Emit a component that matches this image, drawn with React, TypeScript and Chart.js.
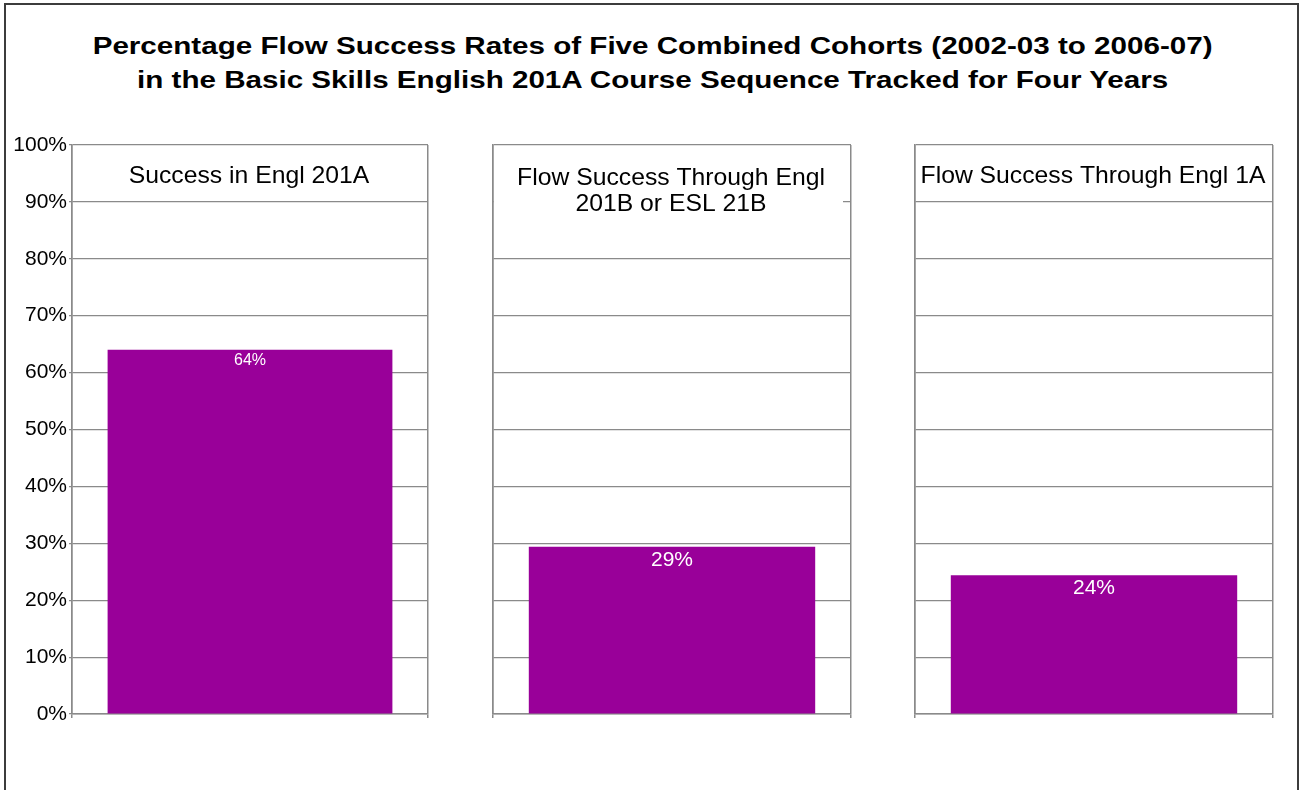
import React, { useEffect, useRef } from "react";
import { Chart, registerables } from "chart.js";

Chart.register(...registerables);

const TITLE_LINES = [
  "Percentage Flow Success Rates of Five Combined Cohorts (2002-03 to 2006-07)",
  "in the Basic Skills English 201A Course Sequence Tracked for Four Years",
];
const CATEGORY_LINES: string[][] = [
  ["Success in Engl 201A"],
  ["Flow Success Through Engl", "201B or ESL 21B"],
  ["Flow Success Through Engl 1A"],
];
const VALUES = [64.0, 29.4, 24.4];
const VALUE_LABELS = ["64%", "29%", "24%"];
const VALUE_FONT_SIZES = [16, 21, 21];
const Y_TICKS = [0, 10, 20, 30, 40, 50, 60, 70, 80, 90, 100];

const FONT = "'Liberation Sans', Arial, sans-serif";
const BAR = "#990099";
const GRID = "#8a8a8a";

// panel layout (page coords)
const PANELS = [
  { left: 72, right: 428 },
  { left: 493, right: 851 },
  { left: 915, right: 1273 },
];
const PLOT_TOP = 145;
const PLOT_BOTTOM = 714;
const PAD_TOP = 14;
const PAD_RIGHT = 4;
const PAD_LEFT = 4;
const X_AXIS_H = 8;
const Y_AXIS_W = 60;

function Panel({ idx }: { idx: number }) {
  const ref = useRef<HTMLCanvasElement | null>(null);
  const p = PANELS[idx];
  const first = idx === 0;
  const canvasLeft = first ? p.left - Y_AXIS_W - PAD_LEFT : p.left - PAD_LEFT;
  const canvasTop = PLOT_TOP - PAD_TOP;
  const canvasW = p.right + PAD_RIGHT - canvasLeft;
  const canvasH = PLOT_BOTTOM + X_AXIS_H + 2 - canvasTop;

  useEffect(() => {
    if (!ref.current) return;
    const labelPlugin = {
      id: "panelLabels",
      afterDatasetsDraw(chart: any) {
        const ctx = chart.ctx;
        const area = chart.chartArea;
        const meta = chart.getDatasetMeta(0);
        meta.data.forEach((bar: any) => {
          ctx.save();
          ctx.fillStyle = "#ffffff";
          ctx.font = `${VALUE_FONT_SIZES[idx]}px ${FONT}`;
          ctx.textAlign = "center";
          ctx.textBaseline = "top";
          ctx.fillText(VALUE_LABELS[idx], bar.x, bar.y + 3);
          ctx.restore();
        });
        const lines = CATEGORY_LINES[idx];
        ctx.save();
        const cx = (area.left + area.right) / 2 - 1;
        const lineH = 26;
        const startY = area.top + 31;
        if (lines.length > 1) {
          ctx.fillStyle = "#ffffff";
          ctx.fillRect(area.left + 1, area.top + 14, area.right - area.left - 9, 56);
        }
        ctx.fillStyle = "#000000";
        ctx.font = `24px ${FONT}`;
        ctx.textAlign = "center";
        ctx.textBaseline = "middle";
        lines.forEach((ln, i) => {
          ctx.save();
          ctx.translate(cx, startY + i * lineH + (lines.length > 1 ? 2 : 0));
          ctx.scale(1.03, 1);
          ctx.fillText(ln, 0, 0);
          ctx.restore();
        });
        ctx.restore();
      },
    };
    const chart = new Chart(ref.current, {
      type: "bar",
      data: {
        labels: [CATEGORY_LINES[idx].join(" ")],
        datasets: [
          {
            data: [VALUES[idx]],
            backgroundColor: BAR,
            borderWidth: 0,
            categoryPercentage: 1,
            barPercentage: 0.8,
          },
        ],
      },
      options: {
        animation: false,
        responsive: false,
        devicePixelRatio: 1,
        layout: {
          autoPadding: false,
          padding: { top: PAD_TOP, right: PAD_RIGHT, left: PAD_LEFT, bottom: 2 },
        },
        plugins: {
          legend: { display: false },
          title: { display: false },
          tooltip: { enabled: false },
        },
        scales: {
          x: {
            type: "category",
            offset: true,
            ticks: { display: false },
            grid: {
              offset: true,
              color: GRID,
              lineWidth: 1.5,
              drawTicks: true,
              tickLength: 4,
            },
            border: { display: true, color: GRID, width: 1.5 },
            afterFit: (s: any) => {
              s.height = X_AXIS_H;
              s.paddingLeft = 0;
              s.paddingRight = 0;
            },
          },
          y: {
            min: 0,
            max: 100,
            afterBuildTicks: (s: any) => {
              s.ticks = Y_TICKS.map((v) => ({ value: v }));
            },
            ticks: {
              display: first,
              padding: 2,
              color: "#000000",
              font: { family: FONT, size: 21 },
              callback: (v: any) => `${v}%`,
            },
            grid: {
              color: GRID,
              lineWidth: 1.2,
              drawTicks: first,
              tickLength: 3,
            },
            border: { display: true, color: GRID, width: 1.5 },
            afterFit: (s: any) => {
              s.width = first ? Y_AXIS_W : 0;
              s.paddingTop = 0;
              s.paddingBottom = 0;
            },
          },
        },
      },
      plugins: [labelPlugin],
    });
    return () => chart.destroy();
  }, [idx]);

  return (
    <canvas
      ref={ref}
      width={canvasW}
      height={canvasH}
      style={{
        position: "absolute",
        left: canvasLeft,
        top: canvasTop,
        width: canvasW,
        height: canvasH,
      }}
    />
  );
}

export default function App() {
  return (
    <div
      style={{
        position: "fixed",
        left: 0,
        top: 0,
        width: 1305,
        height: 790,
        overflow: "hidden",
        background: "#ffffff",
      }}
    >
      <div
        style={{
          position: "absolute",
          left: 4,
          top: 3,
          width: 1295,
          height: 820,
          border: "2px solid #3c3c3c",
          boxSizing: "border-box",
        }}
      />
      <div
        style={{
          position: "absolute",
          left: 0,
          top: 29,
          width: 1305,
          textAlign: "center",
          fontFamily: FONT,
          fontWeight: "bold",
          fontSize: 24,
          lineHeight: "34px",
          color: "#000",
        }}
      >
        {TITLE_LINES.map((t, i) => (
          <div key={i} style={{ transform: "scaleX(1.233)", transformOrigin: "652px 50%", whiteSpace: "nowrap" }}>
            {t}
          </div>
        ))}
      </div>
      {PANELS.map((_, i) => (
        <Panel key={i} idx={i} />
      ))}
    </div>
  );
}
